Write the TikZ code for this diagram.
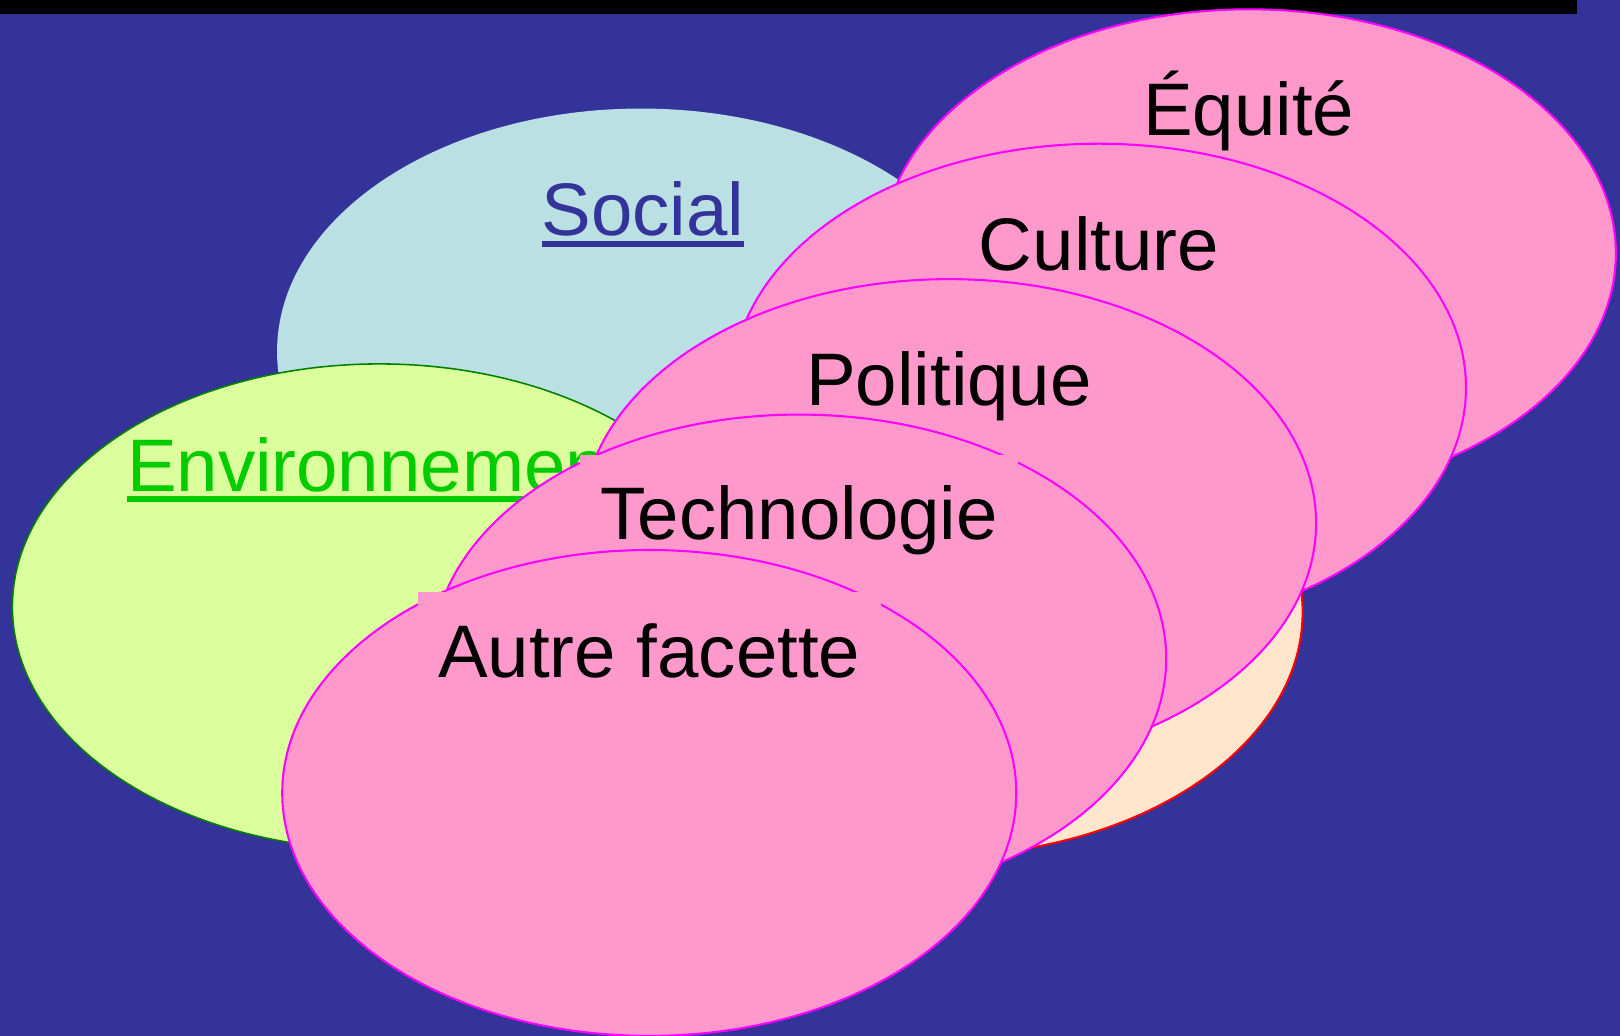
\documentclass[tikz,border=0pt]{standalone}
\usepackage{fontspec}
\setmainfont{Liberation Sans}
\definecolor{bgblue}{HTML}{333399}
\definecolor{socialfill}{HTML}{BBE0E3}
\definecolor{envfill}{HTML}{DAFF9C}
\definecolor{envline}{HTML}{008000}
\definecolor{envtext}{HTML}{00CC00}
\definecolor{ecofill}{HTML}{FFE6CC}
\definecolor{ecoline}{HTML}{FF0000}
\definecolor{pinkfill}{HTML}{FF99CC}
\definecolor{pinkline}{HTML}{FF00FF}
\newcommand{\ulx}[1]{\setbox0=\hbox{#1}\rlap{\rule[-5.5pt]{\wd0}{3pt}}\box0}
\begin{document}
\begin{tikzpicture}[x=0.5pt,y=-0.5pt,
  bigfont/.style={font=\fontsize{36}{40}\selectfont},
  pinkell/.style={fill=pinkfill,draw=pinkline,line width=1pt},
  textbox/.style={bigfont,fill=pinkfill,inner xsep=10pt,inner ysep=15pt,
    text height=26pt,text depth=8pt,anchor=base,text=black}]
\useasboundingbox (0,0) rectangle (1567,1002);
\fill[bgblue] (0,0) rectangle (1567,1002);
\fill[black] (0,0) rectangle (1525,13.5);
% three base ellipses
\path[fill=socialfill] (620,340) ellipse [x radius=352, y radius=235];
\node[bigfont,text=bgblue,anchor=base] (social) at (622,228) {\ulx{Social}};
\path[fill=envfill,draw=envline,line width=0.75pt] (367,587) ellipse [x radius=355, y radius=235];
\node[bigfont,text=envtext,anchor=base] (env) at (365,475) {\ulx{Environnement}};
\path[fill=ecofill,draw=ecoline,line width=1pt] (905,592) ellipse [x radius=355, y radius=236];
% pink facets
\path[pinkell] (1208,245) ellipse [x radius=355, y radius=236];
\node[textbox] (equite) at (1208,131) {Équité};
\path[pinkell] (1063,375) ellipse [x radius=355, y radius=236];
\node[textbox] (culture) at (1063,262) {Culture};
\path[pinkell] (918,506) ellipse [x radius=355, y radius=236];
\node[textbox] (politique) at (918,392) {Politique};
\path[pinkell] (773,637) ellipse [x radius=355, y radius=236];
\node[textbox] (techno) at (773,522) {Technologie};
\path[pinkell] (628,767) ellipse [x radius=355, y radius=235];
\node[textbox] (autre) at (628,655) {Autre facette};
\end{tikzpicture}
\end{document}
